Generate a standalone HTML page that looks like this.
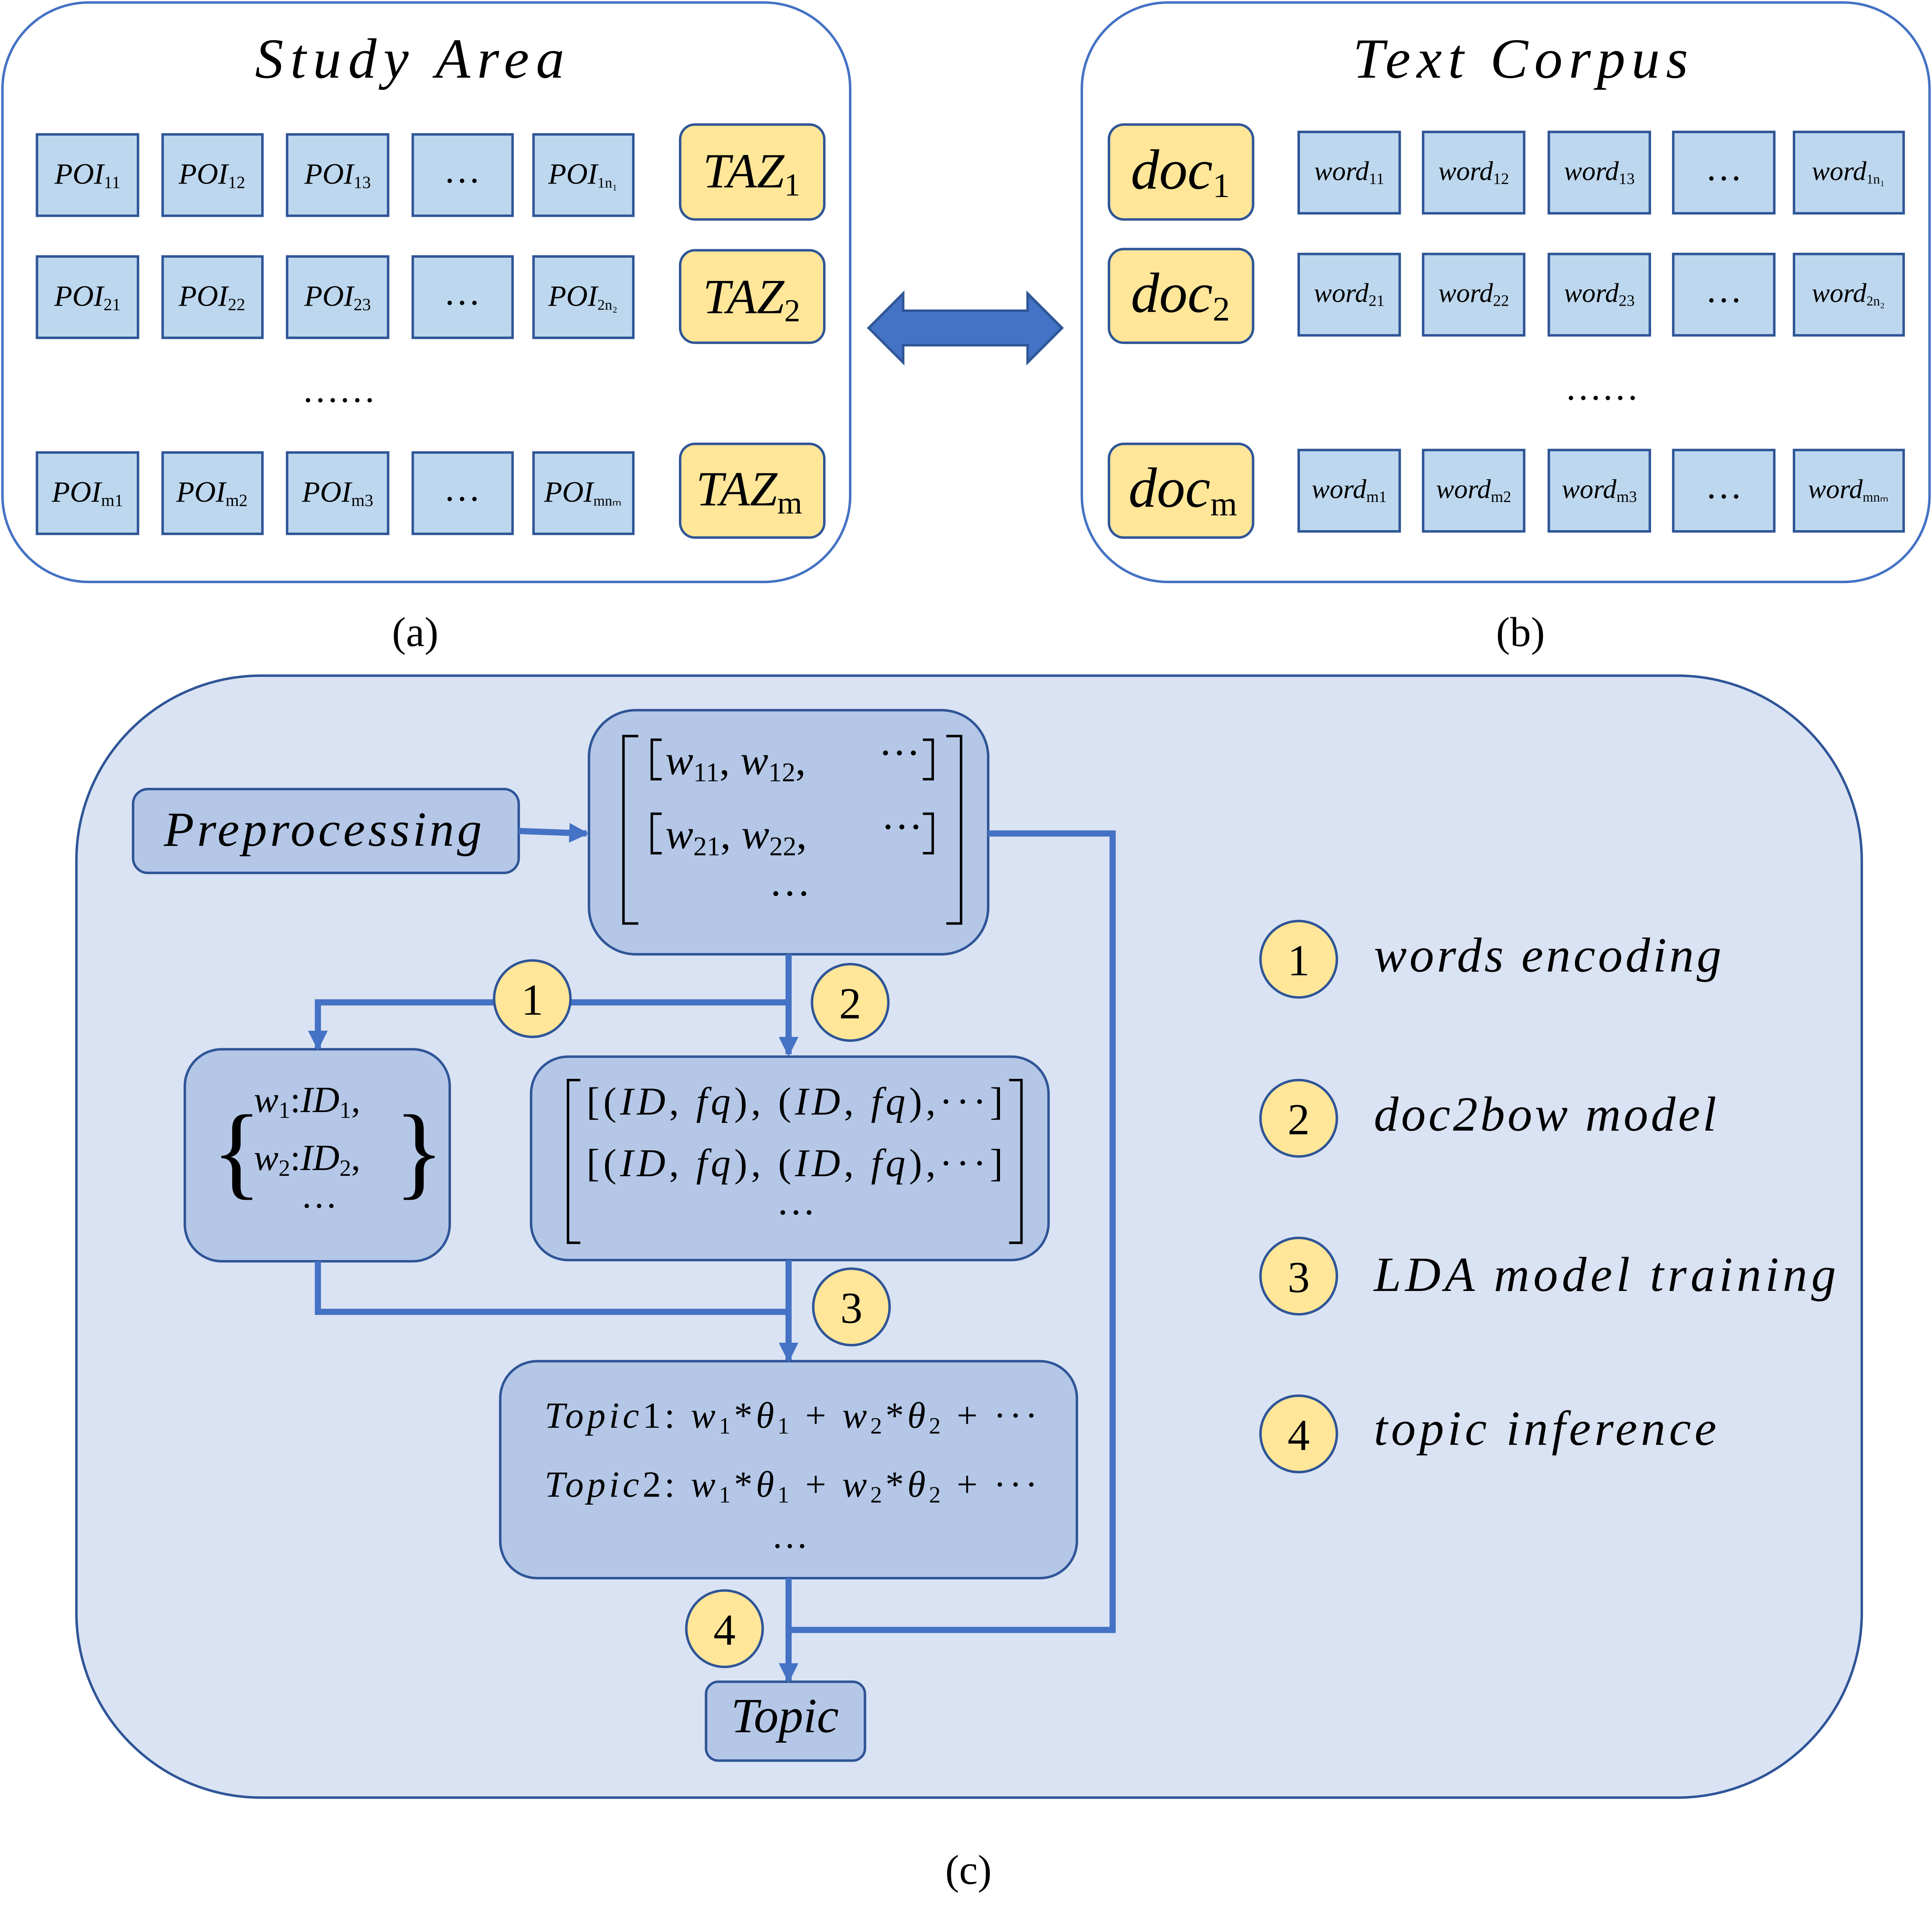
<!DOCTYPE html>
<html><head><meta charset="utf-8"><style>
html,body{margin:0;padding:0;background:#fff;overflow:hidden;width:100%;height:100%;}
svg{display:block;width:100vw;height:100vh;}
text{font-family:"Liberation Serif",serif;fill:#000;}
.it{font-style:italic;}
.s{baseline-shift:-25%;font-style:normal;}
</style></head><body>
<svg viewBox="0 0 1568 1567" preserveAspectRatio="none" xmlns="http://www.w3.org/2000/svg">
<defs>
<marker id="ah" markerWidth="18" markerHeight="18" refX="14" refY="8" orient="auto" markerUnits="userSpaceOnUse"><path d="M0,0 L16,8 L0,16 z" fill="#4472c4"/></marker>
</defs>
<rect width="1568" height="1567" fill="#fff"/>
<!-- Panel a -->
<rect x="2" y="2" width="688" height="470" rx="70" fill="#fff" stroke="#4472c4" stroke-width="2"/>
<text x="207" y="63" font-size="46" class="it" textLength="251">Study Area</text>
<g fill="#bdd7ee" stroke="#2f5597" stroke-width="2">
<rect x="30" y="109" width="82" height="66"/><rect x="132" y="109" width="81" height="66"/><rect x="233" y="109" width="82" height="66"/><rect x="335" y="109" width="81" height="66"/><rect x="433" y="109" width="81" height="66"/>
<rect x="30" y="208" width="82" height="66"/><rect x="132" y="208" width="81" height="66"/><rect x="233" y="208" width="82" height="66"/><rect x="335" y="208" width="81" height="66"/><rect x="433" y="208" width="81" height="66"/>
<rect x="30" y="367" width="82" height="66"/><rect x="132" y="367" width="81" height="66"/><rect x="233" y="367" width="82" height="66"/><rect x="335" y="367" width="81" height="66"/><rect x="433" y="367" width="81" height="66"/>
</g>
<g font-size="24" class="it" text-anchor="middle">
<text x="71" y="149">POI<tspan class="s" font-size="14">11</tspan></text><text x="172" y="149">POI<tspan class="s" font-size="14">12</tspan></text><text x="274" y="149">POI<tspan class="s" font-size="14">13</tspan></text><text x="473" y="149">POI<tspan class="s" font-size="12">1n₁</tspan></text>
<text x="71" y="248">POI<tspan class="s" font-size="14">21</tspan></text><text x="172" y="248">POI<tspan class="s" font-size="14">22</tspan></text><text x="274" y="248">POI<tspan class="s" font-size="14">23</tspan></text><text x="473" y="248">POI<tspan class="s" font-size="12">2n₂</tspan></text>
<text x="71" y="407">POI<tspan class="s" font-size="14">m1</tspan></text><text x="172" y="407">POI<tspan class="s" font-size="14">m2</tspan></text><text x="274" y="407">POI<tspan class="s" font-size="14">m3</tspan></text><text x="473" y="407">POI<tspan class="s" font-size="12">mnₘ</tspan></text>
</g>
<g font-size="30" text-anchor="middle"><text x="375" y="148">…</text><text x="375" y="247">…</text><text x="375" y="406">…</text><text x="275" y="326">……</text></g>
<g fill="#ffe699" stroke="#2f5597" stroke-width="2">
<rect x="552" y="101" width="117" height="77" rx="12"/><rect x="552" y="203" width="117" height="75" rx="12"/><rect x="552" y="360" width="117" height="76" rx="12"/>
</g>
<g font-size="40" class="it" text-anchor="middle">
<text x="610" y="152">TAZ<tspan class="s" font-size="26">1</tspan></text>
<text x="610" y="254">TAZ<tspan class="s" font-size="26">2</tspan></text>
<text x="608" y="410">TAZ<tspan class="s" font-size="26" font-style="italic">m</tspan></text>
</g>
<!-- Panel b -->
<rect x="878" y="2" width="688" height="470" rx="70" fill="#fff" stroke="#4472c4" stroke-width="2"/>
<text x="1098" y="63" font-size="46" class="it" textLength="272">Text Corpus</text>
<g fill="#ffe699" stroke="#2f5597" stroke-width="2">
<rect x="900" y="101" width="117" height="77" rx="12"/><rect x="900" y="202" width="117" height="76" rx="12"/><rect x="900" y="360" width="117" height="76" rx="12"/>
</g>
<g font-size="46" class="it" text-anchor="middle">
<text x="958" y="153">doc<tspan class="s" font-size="28">1</tspan></text>
<text x="958" y="253">doc<tspan class="s" font-size="28">2</tspan></text>
<text x="960" y="411">doc<tspan class="s" font-size="28" font-style="italic">m</tspan></text>
</g>
<g fill="#bdd7ee" stroke="#2f5597" stroke-width="2">
<rect x="1054" y="107" width="82" height="66"/><rect x="1155" y="107" width="82" height="66"/><rect x="1257" y="107" width="82" height="66"/><rect x="1358" y="107" width="82" height="66"/><rect x="1456" y="107" width="89" height="66"/>
<rect x="1054" y="206" width="82" height="66"/><rect x="1155" y="206" width="82" height="66"/><rect x="1257" y="206" width="82" height="66"/><rect x="1358" y="206" width="82" height="66"/><rect x="1456" y="206" width="89" height="66"/>
<rect x="1054" y="365" width="82" height="66"/><rect x="1155" y="365" width="82" height="66"/><rect x="1257" y="365" width="82" height="66"/><rect x="1358" y="365" width="82" height="66"/><rect x="1456" y="365" width="89" height="66"/>
</g>
<g font-size="22" class="it" text-anchor="middle">
<text x="1095" y="146">word<tspan class="s" font-size="13">11</tspan></text><text x="1196" y="146">word<tspan class="s" font-size="13">12</tspan></text><text x="1298" y="146">word<tspan class="s" font-size="13">13</tspan></text><text x="1500" y="146">word<tspan class="s" font-size="11">1n₁</tspan></text>
<text x="1095" y="245">word<tspan class="s" font-size="13">21</tspan></text><text x="1196" y="245">word<tspan class="s" font-size="13">22</tspan></text><text x="1298" y="245">word<tspan class="s" font-size="13">23</tspan></text><text x="1500" y="245">word<tspan class="s" font-size="11">2n₂</tspan></text>
<text x="1095" y="404">word<tspan class="s" font-size="13">m1</tspan></text><text x="1196" y="404">word<tspan class="s" font-size="13">m2</tspan></text><text x="1298" y="404">word<tspan class="s" font-size="13">m3</tspan></text><text x="1500" y="404">word<tspan class="s" font-size="11">mnₘ</tspan></text>
</g>
<g font-size="30" text-anchor="middle"><text x="1399" y="146">…</text><text x="1399" y="245">…</text><text x="1399" y="404">…</text><text x="1300" y="324">……</text></g>
<!-- double arrow -->
<path d="M705,266 L733,238 L733,252 L834,252 L834,238 L862,266 L834,294 L834,280 L733,280 L733,294 Z" fill="#4472c4" stroke="#2f5597" stroke-width="2"/>
<g font-size="34" text-anchor="middle"><text x="337" y="524">(a)</text><text x="1234" y="524">(b)</text><text x="786" y="1528">(c)</text></g>
<!-- Panel c -->
<rect x="62" y="548" width="1449" height="910" rx="150" fill="#dae3f3" stroke="#2f5597" stroke-width="2"/>
<g fill="#b4c7e7" stroke="#2f5597" stroke-width="2">
<rect x="108" y="640" width="313" height="68" rx="12"/>
<rect x="478" y="576" width="324" height="198" rx="38"/>
<rect x="150" y="851" width="215" height="172" rx="30"/>
<rect x="431" y="857" width="420" height="165" rx="30"/>
<rect x="406" y="1104" width="468" height="176" rx="30"/>
<rect x="573" y="1364" width="129" height="64" rx="10"/>
</g>
<text x="133" y="686" font-size="40" class="it" textLength="258">Preprocessing</text>
<!-- brackets -->
<g stroke="#000" stroke-width="2" fill="none">
<path d="M518,597 h-12 v152 h12"/><path d="M768,597 h12 v152 h-12"/>
<path d="M537,600 h-8 v32 h8"/><path d="M749,600 h8 v32 h-8"/>
<path d="M537,660 h-8 v32 h8"/><path d="M749,660 h8 v32 h-8"/>
<path d="M471,876 h-10 v132 h10"/><path d="M819,876 h10 v132 h-10"/>
</g>
<g font-size="34">
<text x="540" y="628"><tspan class="it">w</tspan><tspan class="s" font-size="22">11</tspan>, <tspan class="it">w</tspan><tspan class="s" font-size="22">12</tspan>,</text>
<text x="713" y="622">···</text>
<text x="540" y="688"><tspan class="it">w</tspan><tspan class="s" font-size="22">21</tspan>, <tspan class="it">w</tspan><tspan class="s" font-size="22">22</tspan>,</text>
<text x="715" y="682">···</text>
<text x="624" y="736">···</text>
</g>
<g font-size="32">
<text x="476" y="904" textLength="338">[(<tspan class="it">ID</tspan>, <tspan class="it">fq</tspan>), (<tspan class="it">ID</tspan>, <tspan class="it">fq</tspan>),···]</text>
<text x="476" y="954" textLength="338">[(<tspan class="it">ID</tspan>, <tspan class="it">fq</tspan>), (<tspan class="it">ID</tspan>, <tspan class="it">fq</tspan>),···]</text>
<text x="630" y="994">···</text>
</g>
<g font-size="30">
<text x="172" y="962" font-size="84">{</text>
<text x="320" y="962" font-size="84">}</text>
<text x="206" y="902"><tspan class="it">w</tspan><tspan class="s" font-size="19">1</tspan>:<tspan class="it">ID</tspan><tspan class="s" font-size="19">1</tspan>,</text>
<text x="206" y="949"><tspan class="it">w</tspan><tspan class="s" font-size="19">2</tspan>:<tspan class="it">ID</tspan><tspan class="s" font-size="19">2</tspan>,</text>
<text x="244" y="988">···</text>
</g>
<g font-size="30">
<text x="442" y="1158" textLength="400"><tspan class="it">Topic</tspan>1: <tspan class="it">w</tspan><tspan class="s" font-size="19">1</tspan>*<tspan class="it">θ</tspan><tspan class="s" font-size="19">1</tspan> + <tspan class="it">w</tspan><tspan class="s" font-size="19">2</tspan>*<tspan class="it">θ</tspan><tspan class="s" font-size="19">2</tspan> + ···</text>
<text x="442" y="1214" textLength="400"><tspan class="it">Topic</tspan>2: <tspan class="it">w</tspan><tspan class="s" font-size="19">1</tspan>*<tspan class="it">θ</tspan><tspan class="s" font-size="19">1</tspan> + <tspan class="it">w</tspan><tspan class="s" font-size="19">2</tspan>*<tspan class="it">θ</tspan><tspan class="s" font-size="19">2</tspan> + ···</text>
<text x="626" y="1264">···</text>
</g>
<text x="637" y="1405" font-size="40" class="it" text-anchor="middle">Topic</text>
<!-- connectors -->
<g stroke="#4472c4" stroke-width="5" fill="none">
<path d="M421,674 L476,676" marker-end="url(#ah)"/>
<path d="M640,774 L640,855" marker-end="url(#ah)"/>
<path d="M640,813 L258,813 L258,850" marker-end="url(#ah)"/>
<path d="M802,676 L903,676 L903,1322 L640,1322"/>
<path d="M258,1023 L258,1064 L640,1064"/>
<path d="M640,1022 L640,1103" marker-end="url(#ah)"/>
<path d="M640,1280 L640,1363" marker-end="url(#ah)"/>
</g>
<g fill="#ffe699" stroke="#2f5597" stroke-width="2">
<circle cx="432" cy="810" r="31"/><circle cx="690" cy="813" r="31"/><circle cx="691" cy="1060" r="31"/><circle cx="588" cy="1321" r="31"/>
<circle cx="1054" cy="778" r="31"/><circle cx="1054" cy="907" r="31"/><circle cx="1054" cy="1035" r="31"/><circle cx="1054" cy="1163" r="31"/>
</g>
<g font-size="36" text-anchor="middle">
<text x="432" y="823">1</text><text x="690" y="826">2</text><text x="691" y="1073">3</text><text x="588" y="1334">4</text>
<text x="1054" y="791">1</text><text x="1054" y="920">2</text><text x="1054" y="1048">3</text><text x="1054" y="1176">4</text>
</g>
<g font-size="40" class="it">
<text x="1115" y="788" textLength="282">words encoding</text>
<text x="1115" y="917" textLength="278">doc2bow model</text>
<text x="1115" y="1047" textLength="375">LDA model training</text>
<text x="1115" y="1172" textLength="278">topic inference</text>
</g>
</svg>
</body></html>
